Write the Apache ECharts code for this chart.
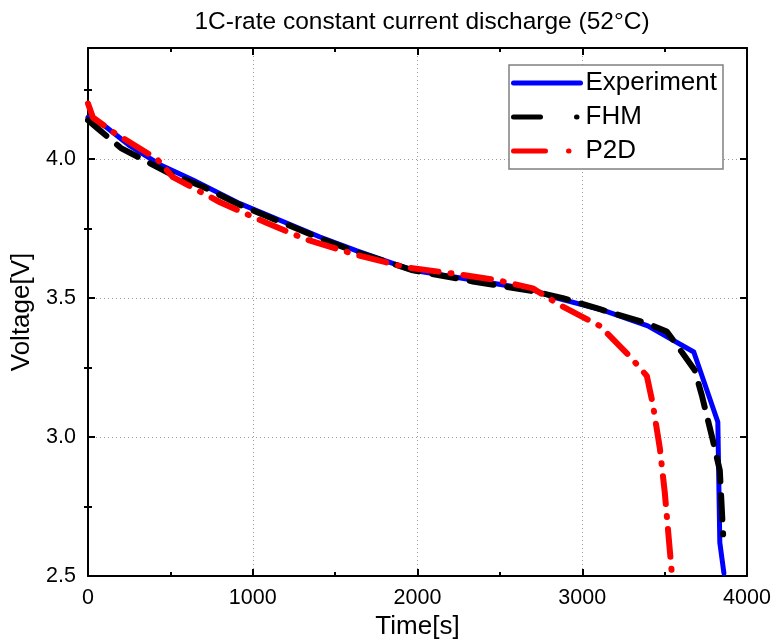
<!DOCTYPE html>
<html style="height: 100%">
<head>
    <meta charset="utf-8">
    <script src="https://cdn.jsdelivr.net/npm/echarts@6/dist/echarts.min.js"></script>
</head>
<body style="margin:0; height:642px; width:771px; background-color:#fff">
    <div id="container" style="width:771px; height:642px"></div>
    <script type="text/javascript">
        // values: time [s] and voltage [V]
        var expTime = [0, 100, 250, 437, 637, 922, 1165, 1408, 1632, 1972, 2336, 2700, 2846, 3107, 3398, 3677, 3823, 3835, 3860];
        var expVolt = [4.15, 4.12, 4.05, 3.98, 3.925, 3.84, 3.78, 3.72, 3.67, 3.60, 3.565, 3.53, 3.50, 3.46, 3.40, 3.306, 3.054, 2.62, 2.51];

        var fhmTime = [0, 60, 200, 330, 479, 700, 922, 1165, 1408, 1632, 1972, 2336, 2700, 2882, 3107, 3390, 3513, 3604, 3683, 3726, 3792, 3835, 3855];
        var fhmVolt = [4.14, 4.11, 4.04, 4.00, 3.953, 3.90, 3.835, 3.775, 3.715, 3.665, 3.60, 3.56, 3.525, 3.50, 3.46, 3.41, 3.38, 3.306, 3.24, 3.15, 2.99, 2.88, 2.65];

        var p2dTime = [0, 30, 146, 420, 516, 801, 1086, 1329, 1632, 1936, 2197, 2482, 2700, 2864, 3107, 3289, 3392, 3428, 3471, 3501, 3545];
        var p2dVolt = [4.20, 4.15, 4.10, 4.00, 3.935, 3.845, 3.77, 3.71, 3.655, 3.61, 3.59, 3.565, 3.535, 3.475, 3.40, 3.29, 3.22, 3.12, 2.96, 2.80, 2.50];

        var yMinor = [2.75, 3.25, 3.75, 4.25];

        function pairs(xs, ys) {
            return xs.map(function (x, i) { return [x, ys[i]]; });
        }

        var font = 'Liberation Sans, Arial, sans-serif';
        var dom = document.getElementById("container");
        var myChart = echarts.init(dom);

        var boxAxis = {
            axisLine: { show: true, onZero: false, lineStyle: { color: '#000', width: 2 } },
            axisTick: { show: true, inside: true, length: 7, lineStyle: { color: '#000', width: 2 } },
            axisLabel: { show: false },
            splitLine: { show: false }
        };

        var option = {
            animation: false,
            title: {
                text: '1C-rate constant current discharge (52°C)',
                left: 422,
                top: 10,
                padding: 0,
                textAlign: 'center',
                textStyle: { fontFamily: font, fontSize: 24.5, fontWeight: 'normal', color: '#000' }
            },
            grid: { left: 88, right: 24, top: 48, bottom: 66, outerBoundsMode: 'none', containLabel: false },
            legend: {
                orient: 'vertical',
                left: 509,
                top: 65,
                padding: [5, 6, 5, 2],
                itemGap: 8,
                itemWidth: 67,
                itemHeight: 14,
                itemStyle: { opacity: 0 },
                backgroundColor: '#fff',
                borderColor: '#808080',
                borderWidth: 1.5,
                textStyle: { fontFamily: font, fontSize: 26, lineHeight: 26, color: '#000' },
                data: [
                    { name: 'Experiment', lineStyle: { width: 5, cap: 'round' } },
                    { name: 'FHM', lineStyle: { width: 5, cap: 'round', type: [27, 36, 0.5, 20] } },
                    { name: 'P2D', lineStyle: { width: 5, cap: 'round', type: [32, 23, 0.5, 20] } }
                ]
            },
            xAxis: [
                {
                    type: 'value', min: 0, max: 4000, interval: 1000,
                    name: 'Time[s]', nameLocation: 'middle', nameGap: 34,
                    nameTextStyle: { fontFamily: font, fontSize: 26, color: '#000' },
                    axisLine: { show: true, onZero: false, lineStyle: { color: '#000', width: 2 } },
                    axisTick: { show: true, inside: true, length: 7, lineStyle: { color: '#000', width: 2 } },
                    minorTick: { show: true, splitNumber: 2, length: 4, lineStyle: { color: '#000', width: 2 } },
                    axisLabel: {
                        fontFamily: font, fontSize: 21.5, color: '#000', margin: 11,
                        formatter: function (v) { return String(v); }
                    },
                    splitLine: { show: true, lineStyle: { color: '#9a9a9a', width: 1, type: [1, 3] } }
                },
                Object.assign({
                    type: 'value', position: 'top', min: 0, max: 4000, interval: 1000,
                    minorTick: { show: true, splitNumber: 2, length: 4, lineStyle: { color: '#000', width: 2 } }
                }, boxAxis)
            ],
            yAxis: [
                {
                    type: 'value', min: 2.5, max: 4.4, interval: 0.5,
                    name: 'Voltage[V]', nameLocation: 'middle', nameGap: 50,
                    nameTextStyle: { fontFamily: font, fontSize: 26, color: '#000' },
                    axisLine: { show: true, onZero: false, lineStyle: { color: '#000', width: 2 } },
                    axisTick: { show: true, inside: true, length: 7, lineStyle: { color: '#000', width: 2 } },
                    axisLabel: {
                        fontFamily: font, fontSize: 21.5, color: '#000', margin: 12, showMaxLabel: false,
                        formatter: function (v) { return v.toFixed(1); }
                    },
                    splitLine: { show: true, lineStyle: { color: '#9a9a9a', width: 1, type: [1, 3] } }
                },
                Object.assign({ type: 'value', position: 'right', min: 2.5, max: 4.4, interval: 0.5 }, boxAxis),
                {
                    type: 'value', position: 'left', min: 2.5, max: 4.4,
                    axisLine: { show: false },
                    axisTick: { show: true, inside: true, length: 4, customValues: yMinor, lineStyle: { color: '#000', width: 2 } },
                    axisLabel: { show: false }, splitLine: { show: false }
                },
                {
                    type: 'value', position: 'right', min: 2.5, max: 4.4,
                    axisLine: { show: false },
                    axisTick: { show: true, inside: true, length: 4, customValues: yMinor, lineStyle: { color: '#000', width: 2 } },
                    axisLabel: { show: false }, splitLine: { show: false }
                }
            ],
            series: [
                {
                    name: 'Experiment', type: 'line', showSymbol: false, symbol: 'none',
                    color: '#0000ff',
                    lineStyle: { color: '#0000ff', width: 5, cap: 'round', join: 'round' },
                    data: pairs(expTime, expVolt)
                },
                {
                    name: 'FHM', type: 'line', showSymbol: false, symbol: 'none',
                    color: '#000000',
                    lineStyle: { color: '#000000', width: 6, type: [24, 14], cap: 'round', join: 'round' },
                    data: pairs(fhmTime, fhmVolt)
                },
                {
                    name: 'P2D', type: 'line', showSymbol: false, symbol: 'none',
                    color: '#ff0000',
                    lineStyle: { color: '#ff0000', width: 6, type: [28, 12, 1, 12], cap: 'round', join: 'round' },
                    data: pairs(p2dTime, p2dVolt)
                }
            ]
        };

        myChart.setOption(option);
    </script>
</body>
</html>
